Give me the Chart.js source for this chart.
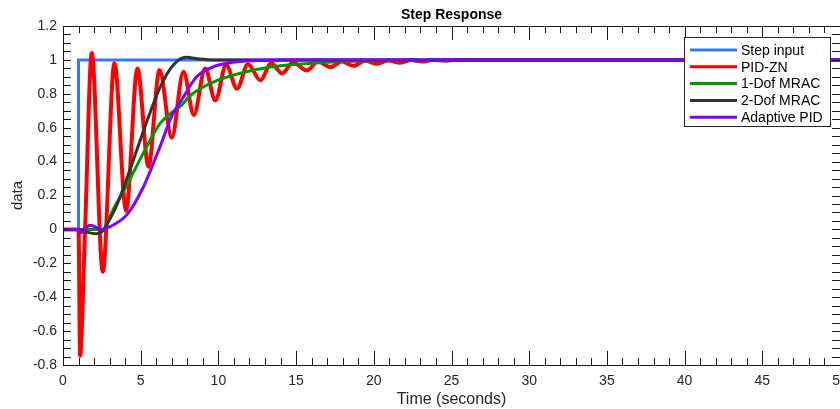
<!DOCTYPE html>
<html>
<head>
<meta charset="utf-8">
<script src="https://cdn.jsdelivr.net/npm/chart.js@4.4.0/dist/chart.umd.min.js"></script>
<style>
  html, body { margin: 0; padding: 0; background: #fff; }
  #wrap { width: 840px; height: 409px; }
</style>
</head>
<body>
<div id="wrap"><canvas id="chart_step" width="840" height="409"></canvas></div>
<script>
const seriesLabels = ['Step input', 'PID-ZN', '1-Dof MRAC', '2-Dof MRAC', 'Adaptive PID'];
const seriesColors = ['#3377ff', '#ff0000', '#009900', '#333333', '#7f00ff'];

// step input
const stepT = [0, 1, 1, 50];
const stepY = [0, 0, 1, 1];

const pidT = [0, 1, 1.1, 1.42, 1.85, 2.56, 3.31, 4.06, 4.79, 5.5, 6.21, 7.0, 7.75, 8.42, 9.15, 9.8,
  10.5, 11.2, 11.9, 12.7, 13.4, 14.1, 14.8, 15.7, 16.4, 17.2, 17.95, 18.7, 19.45, 20.2, 20.9, 21.7,
  22.4, 23.1, 23.8, 24.6, 25.3, 50];
const pidY = [0, 0, -0.745, 0.0, 1.04, -0.25, 0.98, 0.11, 0.95, 0.37, 0.94, 0.54, 0.93, 0.675, 0.95, 0.76,
  0.97, 0.83, 0.975, 0.88, 0.98, 0.92, 0.985, 0.937, 0.99, 0.957, 0.99, 0.965, 0.995, 0.977, 0.997, 0.983,
  0.999, 0.99, 1.0, 0.995, 1.0, 1.0];

// 1-Dof MRAC
const mrac1T = [0, 2.6, 2.8, 3.24, 4.1, 5.17, 6.25, 7.0, 7.6, 8.2, 9.7, 11.8, 14, 16, 18, 21, 25, 50];
const mrac1Y = [0, 0, 0.03, 0.12, 0.26, 0.45, 0.625, 0.69, 0.73, 0.79, 0.87, 0.93, 0.965, 0.98, 0.99, 0.997, 1.0, 1.0];

// 2-Dof MRAC
const mrac2T = [0, 1, 1.5, 2.1, 2.6, 2.8, 3.24, 3.67, 4.53, 5.39, 6.25, 7.1, 7.9, 8.8, 9.7, 50];
const mrac2Y = [0, 0, -0.015, -0.026, -0.005, 0.024, 0.1, 0.19, 0.41, 0.635, 0.84, 0.97, 1.016, 1.005, 1.0, 1.0];

// Adaptive PID
const apidT = [0, 1, 1.12, 1.75, 2.5, 3.0, 4.15, 5.17, 6.25, 7.0, 7.54, 8.6, 9.7, 10.8, 12.5, 15, 50];
const apidY = [0, 0, -0.02, 0.024, 0.0, 0.015, 0.09, 0.25, 0.49, 0.67, 0.75, 0.90, 0.96, 0.985, 0.996, 1.0, 1.0];

const xTicks = { min: 0, max: 50, step: 5 };
const yTicks = { min: -0.8, max: 1.2, step: 0.2 };

const FONT = "'Liberation Sans', Arial, sans-serif";
const toPoints = (ts, ys) => ts.map((t, i) => ({ x: t, y: ys[i] }));

const series = [
  toPoints(stepT, stepY),
  toPoints(pidT, pidY),
  toPoints(mrac1T, mrac1Y),
  toPoints(mrac2T, mrac2Y),
  toPoints(apidT, apidY)
];

// inward ticks, box, title and legend like the MATLAB figure
const matlabAxes = {
  id: 'matlabAxes',
  afterDraw(chart) {
    const { ctx, chartArea: a, scales: { x, y } } = chart;
    ctx.save();
    ctx.strokeStyle = '#1a1a1a';
    ctx.lineWidth = 1;
    ctx.beginPath();
    for (let v = x.min; v <= x.max + 1e-9; v += 1) {
      const px = Math.round(x.getPixelForValue(v)) + 0.5;
      const len = Math.round(v) % 5 === 0 ? 14 : 7;
      ctx.moveTo(px, a.bottom); ctx.lineTo(px, a.bottom - len);
      ctx.moveTo(px, a.top); ctx.lineTo(px, a.top + len);
    }
    const n = Math.round((y.max - y.min) / 0.05);
    for (let i = 0; i <= n; i++) {
      const py = Math.round(y.getPixelForValue(y.min + i * 0.05)) + 0.5;
      ctx.moveTo(a.left, py); ctx.lineTo(a.left + 8, py);
      ctx.moveTo(a.right, py); ctx.lineTo(a.right - 8, py);
    }
    ctx.stroke();
    ctx.strokeRect(Math.round(a.left) + 0.5, Math.round(a.top) + 0.5,
      Math.round(a.right - a.left), Math.round(a.bottom - a.top));

    // title
    ctx.fillStyle = '#000';
    ctx.font = 'bold 14px ' + FONT;
    ctx.textAlign = 'center';
    ctx.textBaseline = 'middle';
    ctx.fillText('Step Response', (a.left + a.right) / 2, 15);

    // legend
    const lx = 684, ly = 37, lw = 146, lh = 89;
    ctx.fillStyle = '#fff';
    ctx.fillRect(lx, ly, lw, lh);
    ctx.strokeStyle = '#262626';
    ctx.lineWidth = 1;
    ctx.strokeRect(lx + 0.5, ly + 0.5, lw, lh);
    ctx.font = '14px ' + FONT;
    ctx.textAlign = 'left';
    chart.data.datasets.forEach((ds, i) => {
      const ry = 50 + i * 16.8;
      ctx.strokeStyle = ds.borderColor;
      ctx.lineWidth = 3;
      ctx.beginPath();
      ctx.moveTo(690, ry); ctx.lineTo(737, ry);
      ctx.stroke();
      ctx.fillStyle = '#000';
      ctx.fillText(ds.label, 741, ry + 1);
    });
    ctx.restore();
  }
};

new Chart(document.getElementById('chart_step'), {
  type: 'line',
  data: {
    datasets: series.map((pts, i) => ({
      label: seriesLabels[i],
      data: pts,
      borderColor: seriesColors[i],
      backgroundColor: seriesColors[i],
      borderWidth: i === 1 ? 4 : 3,
      pointRadius: 0,
      fill: false,
      tension: 0,
      cubicInterpolationMode: i === 0 ? 'default' : 'monotone',
      order: seriesLabels.length - i
    }))
  },
  options: {
    responsive: false,
    animation: false,
    events: [],
    layout: { padding: { top: 26, right: -3, left: 0, bottom: 0 } },
    plugins: {
      legend: { display: false },
      title: { display: false },
      tooltip: { enabled: false }
    },
    scales: {
      x: {
        type: 'linear',
        min: xTicks.min,
        max: xTicks.max,
        grid: { display: false, drawTicks: false },
        border: { display: false },
        ticks: {
          stepSize: xTicks.step,
          autoSkip: false,
          maxRotation: 0,
          padding: 8,
          color: '#262626',
          font: { family: FONT, size: 14 }
        },
        title: {
          display: true,
          text: 'Time (seconds)',
          color: '#262626',
          padding: { top: 0, bottom: 0 },
          font: { family: FONT, size: 16 }
        },
        afterFit: s => { s.height = 44; s.paddingLeft = 0; s.paddingRight = 0; }
      },
      y: {
        min: yTicks.min,
        max: yTicks.max,
        grid: { display: false, drawTicks: false },
        border: { display: false },
        ticks: {
          stepSize: yTicks.step,
          padding: 6,
          color: '#262626',
          font: { family: FONT, size: 14 },
          callback: v => String(+v.toFixed(1))
        },
        title: {
          display: true,
          text: 'data',
          color: '#262626',
          padding: { top: 9, bottom: 0 },
          font: { family: FONT, size: 15 }
        },
        afterFit: s => { s.width = 63; s.paddingTop = 0; s.paddingBottom = 0; }
      }
    }
  },
  plugins: [matlabAxes]
});
</script>
</body>
</html>
